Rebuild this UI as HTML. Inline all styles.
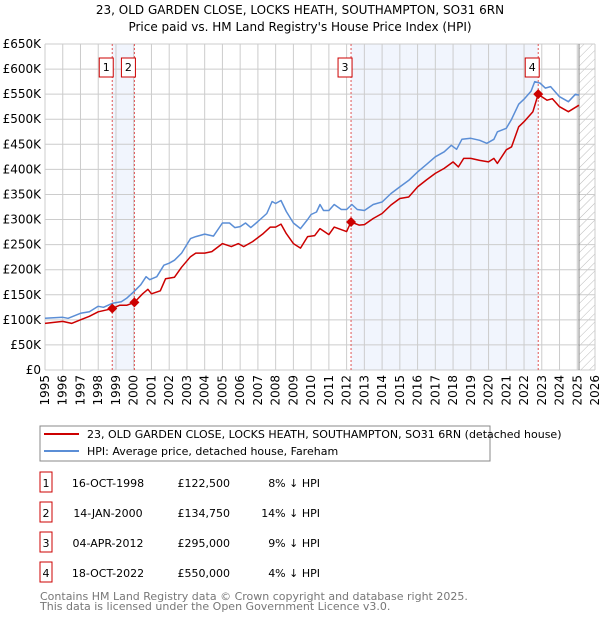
<!DOCTYPE html>
<html><head><meta charset="utf-8">
<style>
body{margin:0;background:#fff;font-family:"DejaVu Sans","Liberation Sans",sans-serif;}
svg text{font-family:"DejaVu Sans","Liberation Sans",sans-serif;}
</style></head>
<body>
<svg id="chart" width="600" height="620" xmlns="http://www.w3.org/2000/svg">
<defs>
<pattern id="hatch" width="6" height="6" patternUnits="userSpaceOnUse" patternTransform="rotate(45)">
<line x1="0" y1="0" x2="0" y2="6" stroke="#bbb" stroke-width="1"/>
</pattern>
</defs>
<text x="300" y="14" text-anchor="middle" font-size="12">23, OLD GARDEN CLOSE, LOCKS HEATH, SOUTHAMPTON, SO31 6RN</text>
<text x="300" y="31" text-anchor="middle" font-size="12">Price paid vs. HM Land Registry's House Price Index (HPI)</text>
<g id="plot"></g>
<g>
<rect x="40" y="426" width="450" height="35" fill="#fff" stroke="#888"/>
<line x1="44" y1="434" x2="79" y2="434" stroke="#cc0000" stroke-width="2"/>
<text x="87" y="438" font-size="11">23, OLD GARDEN CLOSE, LOCKS HEATH, SOUTHAMPTON, SO31 6RN (detached house)</text>
<line x1="44" y1="451" x2="79" y2="451" stroke="#5b8ed6" stroke-width="2"/>
<text x="87" y="455" font-size="11">HPI: Average price, detached house, Fareham</text>
</g>
<g id="table"></g>
<text x="40" y="600" font-size="11" fill="#777">Contains HM Land Registry data © Crown copyright and database right 2025.</text>
<text x="40" y="610" font-size="11" fill="#777">This data is licensed under the Open Government Licence v3.0.</text>
</svg>
<script>
const hpiYears=[1995,1996,1996.3,1997,1997.5,1998,1998.3,1998.8,1999.3,1999.6,2000,2000.4,2000.7,2000.9,2001.3,2001.7,2002,2002.3,2002.7,2003.2,2003.5,2004,2004.5,2005,2005.4,2005.7,2006,2006.3,2006.6,2007,2007.5,2007.8,2008,2008.3,2008.6,2009,2009.4,2009.8,2010,2010.3,2010.5,2010.7,2011,2011.3,2011.7,2012,2012.3,2012.6,2013,2013.5,2014,2014.5,2015,2015.5,2016,2016.5,2017,2017.5,2017.9,2018.2,2018.5,2019,2019.5,2019.9,2020.3,2020.5,2021,2021.3,2021.7,2022,2022.4,2022.6,2022.9,2023.2,2023.5,2024,2024.5,2024.9,2025.1];
const hpiValues=[103,105,103,113,116,127,125,133,136,143,156,170,186,180,186,209,213,219,233,262,266,271,267,293,293,284,286,293,284,296,312,336,332,338,316,293,282,300,310,315,330,318,318,330,320,320,330,320,318,330,335,352,365,378,395,410,425,435,448,440,460,462,458,452,460,475,482,500,530,540,556,575,572,562,565,545,535,550,548];
const ppYears=[1995,1996,1996.5,1997,1997.5,1998,1998.5,1998.79,1999.2,1999.6,2000.04,2000.5,2000.8,2001,2001.5,2001.8,2002.3,2002.7,2003.2,2003.5,2004,2004.4,2005,2005.5,2005.9,2006.2,2006.7,2007.3,2007.7,2008,2008.3,2008.6,2009,2009.4,2009.8,2010.2,2010.5,2011,2011.3,2012,2012.25,2012.7,2013,2013.5,2014,2014.5,2015,2015.5,2016,2016.5,2017,2017.5,2018,2018.3,2018.6,2019,2019.5,2020,2020.3,2020.5,2021,2021.3,2021.7,2022,2022.5,2022.8,2023,2023.3,2023.6,2024,2024.5,2025.1];
const ppValues=[93,97,93,100,107,116,120,122.5,129,129,134.75,152,161,152,158,182,185,205,226,233,233,236,252,246,252,246,256,272,285,285,291,272,252,243,266,268,282,270,285,276,295,289,290,302,312,329,342,345,365,379,392,402,415,405,422,422,418,415,422,412,439,445,485,495,515,550,545,538,541,525,515,528];
const saleLabels=["1","2","3","4"];
const saleYears=[1998.79,2000.04,2012.25,2022.8];
const salePrices=[122.5,134.75,295,550];
const saleDates=["16-OCT-1998","14-JAN-2000","04-APR-2012","18-OCT-2022"];
const salePriceText=["£122,500","£134,750","£295,000","£550,000"];
const salePct=["8% ↓ HPI","14% ↓ HPI","9% ↓ HPI","4% ↓ HPI"];
const yTicks=[0,50,100,150,200,250,300,350,400,450,500,550,600,650];
const yTickLabels=["£0","£50K","£100K","£150K","£200K","£250K","£300K","£350K","£400K","£450K","£500K","£550K","£600K","£650K"];
const xTicks=[1995,1996,1997,1998,1999,2000,2001,2002,2003,2004,2005,2006,2007,2008,2009,2010,2011,2012,2013,2014,2015,2016,2017,2018,2019,2020,2021,2022,2023,2024,2025,2026];

const L=45,R=595,T=44,B=370,X0=1995,X1=2026,YMAX=650;
const sx=y=>L+(y-X0)/(X1-X0)*(R-L);
const sy=v=>B-v/YMAX*(B-T);
const NS="http://www.w3.org/2000/svg";
const plot=document.getElementById('plot');
function mk(tag,attrs,parent){const e=document.createElementNS(NS,tag);for(const k in attrs)e.setAttribute(k,attrs[k]);(parent||plot).appendChild(e);return e;}

// shaded spans
let s=mk('rect',{x:sx(saleYears[0]),y:T,width:sx(saleYears[1])-sx(saleYears[0]),height:B-T,fill:'#eef3fc',opacity:0.8});


s=mk('rect',{x:sx(saleYears[2]),y:T,width:sx(saleYears[3])-sx(saleYears[2]),height:B-T,fill:'#eef3fc',opacity:0.8});


const fy=2025.1;
s=mk('rect',{x:sx(fy),y:T,width:R-sx(fy),height:B-T,fill:'url(#hatch)'});



// grid
yTicks.forEach((v,i)=>{
 const g=mk('line',{x1:L,x2:R,y1:sy(v),y2:sy(v),stroke:'#ccc','stroke-width':1});
 
 
 const t=mk('text',{x:L-4,y:sy(v)+4,'text-anchor':'end','font-size':12});
 
 
 t.textContent=yTickLabels[i];
});
xTicks.forEach(y=>{
 const g=mk('line',{x1:sx(y),x2:sx(y),y1:T,y2:B,stroke:'#ccc','stroke-width':1});
 
 
 const t=mk('text',{x:0,y:0,'text-anchor':'end','font-size':12,transform:`translate(${sx(y)+4},${B+5}) rotate(-90)`});
 
 
 t.textContent=y;
});
s=mk('line',{x1:sx(fy),x2:sx(fy),y1:T,y2:B,stroke:'#888','stroke-width':1});



// sale lines
saleYears.forEach((y,i)=>{
 const l=mk('line',{x1:sx(y),x2:sx(y),y1:T,y2:B,stroke:'#e05555','stroke-width':1,'stroke-dasharray':'2,2'});
 
 
});

function path(xs,vs,color,name){
 const d=xs.map((x,i)=>(i?'L':'M')+sx(x).toFixed(1)+','+sy(vs[i]).toFixed(1)).join('');
 const p=mk('path',{d:d,fill:'none',stroke:color,'stroke-width':1.5,'stroke-linejoin':'round'});
 
 
}
path(hpiYears,hpiValues,'#5b8ed6','hpi-line');
path(ppYears,ppValues,'#cc0000','price-paid-line');

saleYears.forEach((y,i)=>{
 const cx=sx(y),cy=sy(salePrices[i]);
 const d=mk('path',{d:`M${cx},${cy-5}L${cx+5},${cy}L${cx},${cy+5}L${cx-5},${cy}Z`,fill:'#cc0000'});
 
 
 const b=mk('rect',{x:cx-13,y:58,width:14,height:19,fill:'#fff',stroke:'#cc0000'});
 
 
 const t=mk('text',{x:cx-6,y:71,'text-anchor':'middle','font-size':11});
 
 
 t.textContent=saleLabels[i];
});

const tb=document.getElementById('table');
saleLabels.forEach((lab,i)=>{
 const y=483+i*30;
 const b=mk('rect',{x:40,y:y-11,width:12,height:20,fill:'#fff',stroke:'#cc0000'},tb);
 
 
 const cells=[[46,'middle',lab],[108,'middle',saleDates[i]],[230,'end',salePriceText[i]],[320,'end',salePct[i]]];
 cells.forEach((c,j)=>{
  const t=mk('text',{x:c[0],y:y+4,'text-anchor':c[1],'font-size':11},tb);
  
  
  t.textContent=c[2];
 });
});
</script>
</body></html>
